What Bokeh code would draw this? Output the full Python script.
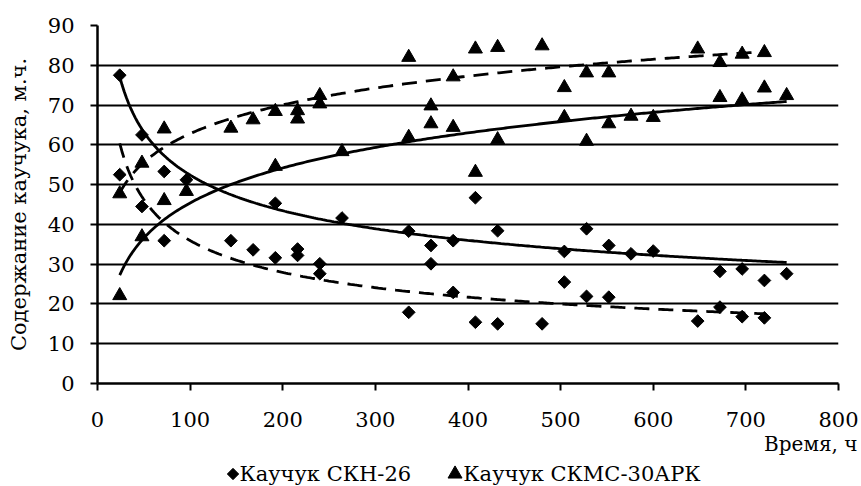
import numpy as np
from bokeh.plotting import figure
from bokeh.layouts import column
from bokeh.models import Range1d, FixedTicker, Title
from bokeh.embed import file_html
from bokeh.resources import INLINE

FONT = "DejaVu Serif"

# --- data (time, h; rubber content, parts) ---
# series drawn with solid trend lines
t_solid = [24, 48, 72, 96, 192, 264, 336, 360, 384, 408, 432, 504, 528, 552, 576, 600, 672, 696, 720, 744]
skn_solid = [77.5, 62.5, 53.3, 51.2, 45.3, 41.6, 38.3, 34.7, 35.9, 46.7, 38.4, 33.2, 38.9, 34.7, 32.6, 33.3, 28.2, 28.8, 25.9, 27.6]
skms_solid = [22.1, 36.9, 46.0, 48.3, 54.6, 58.3, 61.9, 65.3, 64.4, 53.1, 61.3, 66.9, 60.9, 65.3, 67.2, 66.9, 71.9, 71.3, 74.3, 72.4]

# series drawn with dashed trend lines
t_dash = [24, 48, 72, 144, 168, 192, 216, 216, 240, 240, 336, 360, 384, 408, 432, 480, 504, 528, 552, 648, 672, 696, 720]
skn_dash = [52.5, 44.5, 35.9, 35.9, 33.6, 31.6, 33.8, 32.2, 30.1, 27.6, 17.9, 30.1, 22.9, 15.4, 15.0, 15.0, 25.5, 21.9, 21.7, 15.7, 19.2, 16.8, 16.5]
skms_dash = [47.7, 55.4, 64.0, 64.2, 66.3, 68.4, 66.5, 68.6, 70.3, 72.4, 82.0, 69.8, 77.1, 84.1, 84.5, 84.9, 74.4, 78.1, 78.1, 84.1, 80.7, 82.8, 83.2]

x_ticks = [0, 100, 200, 300, 400, 500, 600, 700, 800]
y_ticks = [0, 10, 20, 30, 40, 50, 60, 70, 80, 90]
legend_labels = ["Каучук СКН-26", "Каучук СКМС-30АРК"]
x_title = "Время, ч"
y_title = "Содержание каучука, м.ч."


def log_trend(t, y):
    t = np.asarray(t, float)
    y = np.asarray(y, float)
    a, b = np.polyfit(np.log(t), y, 1)
    tt = np.linspace(t.min(), t.max(), 300)
    return tt, a * np.log(tt) + b


def power_trend(t, y):
    t = np.asarray(t, float)
    y = np.asarray(y, float)
    b, lna = np.polyfit(np.log(t), np.log(y), 1)
    tt = np.linspace(t.min(), t.max(), 300)
    return tt, np.exp(lna) * tt ** b


p = figure(width=861, height=461, output_backend="svg", toolbar_location=None,
           x_range=Range1d(0, 800), y_range=Range1d(0, 90),
           min_border_left=97, min_border_right=23, min_border_top=25, min_border_bottom=78)
p.outline_line_color = None
p.background_fill_color = "white"
p.border_fill_color = "white"

p.xgrid.visible = False
p.ygrid.ticker = FixedTicker(ticks=y_ticks)
p.ygrid.grid_line_color = "black"
p.ygrid.grid_line_width = 2

p.xaxis.ticker = FixedTicker(ticks=x_ticks)
p.yaxis.ticker = FixedTicker(ticks=y_ticks)
for ax in (p.xaxis, p.yaxis):
    ax.axis_line_color = "black"
    ax.axis_line_width = 2.5
    ax.major_tick_line_color = "black"
    ax.major_tick_line_width = 2
    ax.major_tick_in = 0
    ax.major_tick_out = 7
    ax.minor_tick_line_color = None
    ax.major_label_text_font = FONT
    ax.major_label_text_font_size = "21px"
    ax.major_label_text_color = "black"
p.xaxis.major_label_standoff = 21
p.yaxis.major_label_standoff = 16
p.yaxis.axis_label = y_title
p.yaxis.axis_label_text_font = FONT
p.yaxis.axis_label_text_font_size = "21px"
p.yaxis.axis_label_text_font_style = "normal"
p.yaxis.axis_label_text_color = "black"
p.yaxis.axis_label_standoff = 14

# x-axis title, right aligned under the axis end
p.add_layout(Title(text=x_title, align="right", offset=-19, standoff=0,
                   text_font=FONT, text_font_size="20px", text_font_style="normal",
                   text_color="black"), "below")

# trend lines: power fit for СКН-26 (falling), logarithmic fit for СКМС-30АРК (rising)
for fit, t, y, dash in ((power_trend, t_solid, skn_solid, "solid"),
                        (log_trend, t_solid, skms_solid, "solid"),
                        (power_trend, t_dash, skn_dash, "15 9"),
                        (log_trend, t_dash, skms_dash, "15 9")):
    tt, yy = fit(t, y)
    p.line(tt, yy, line_color="black", line_width=2.8, line_dash=dash)

# markers
for t, y in ((t_solid, skn_solid), (t_dash, skn_dash)):
    p.scatter(t, y, marker="square", angle=np.pi / 4, size=9,
              fill_color="black", line_color="black")
for t, y in ((t_solid, skms_solid), (t_dash, skms_dash)):
    p.scatter(t, y, marker="triangle", size=14, fill_color="black", line_color="black")

# legend strip under the chart (x in the chart's units, y in pixels from its top)
leg = figure(width=861, height=25, output_backend="svg", toolbar_location=None,
             x_range=Range1d(0, 800), y_range=Range1d(25, 0),
             x_axis_type=None, y_axis_type=None,
             min_border_left=97, min_border_right=23, min_border_top=0, min_border_bottom=0)
leg.outline_line_color = None
leg.xgrid.visible = False
leg.ygrid.visible = False
leg.background_fill_color = "white"
leg.border_fill_color = "white"

leg.scatter(x=[146.3], y=[12.5], marker="square", angle=np.pi / 4, size=8,
            fill_color="black", line_color="black")
leg.scatter(x=[386], y=[12.5], marker="triangle", size=14,
            fill_color="black", line_color="black")
leg.text(x=[153.3, 395], y=[12.5, 12.5], text=legend_labels, text_font={"value": FONT},
         text_font_size="21px", text_color="black", text_align="left", text_baseline="middle")

open("out.html", "w").write(file_html(column(p, leg, spacing=0), INLINE))
